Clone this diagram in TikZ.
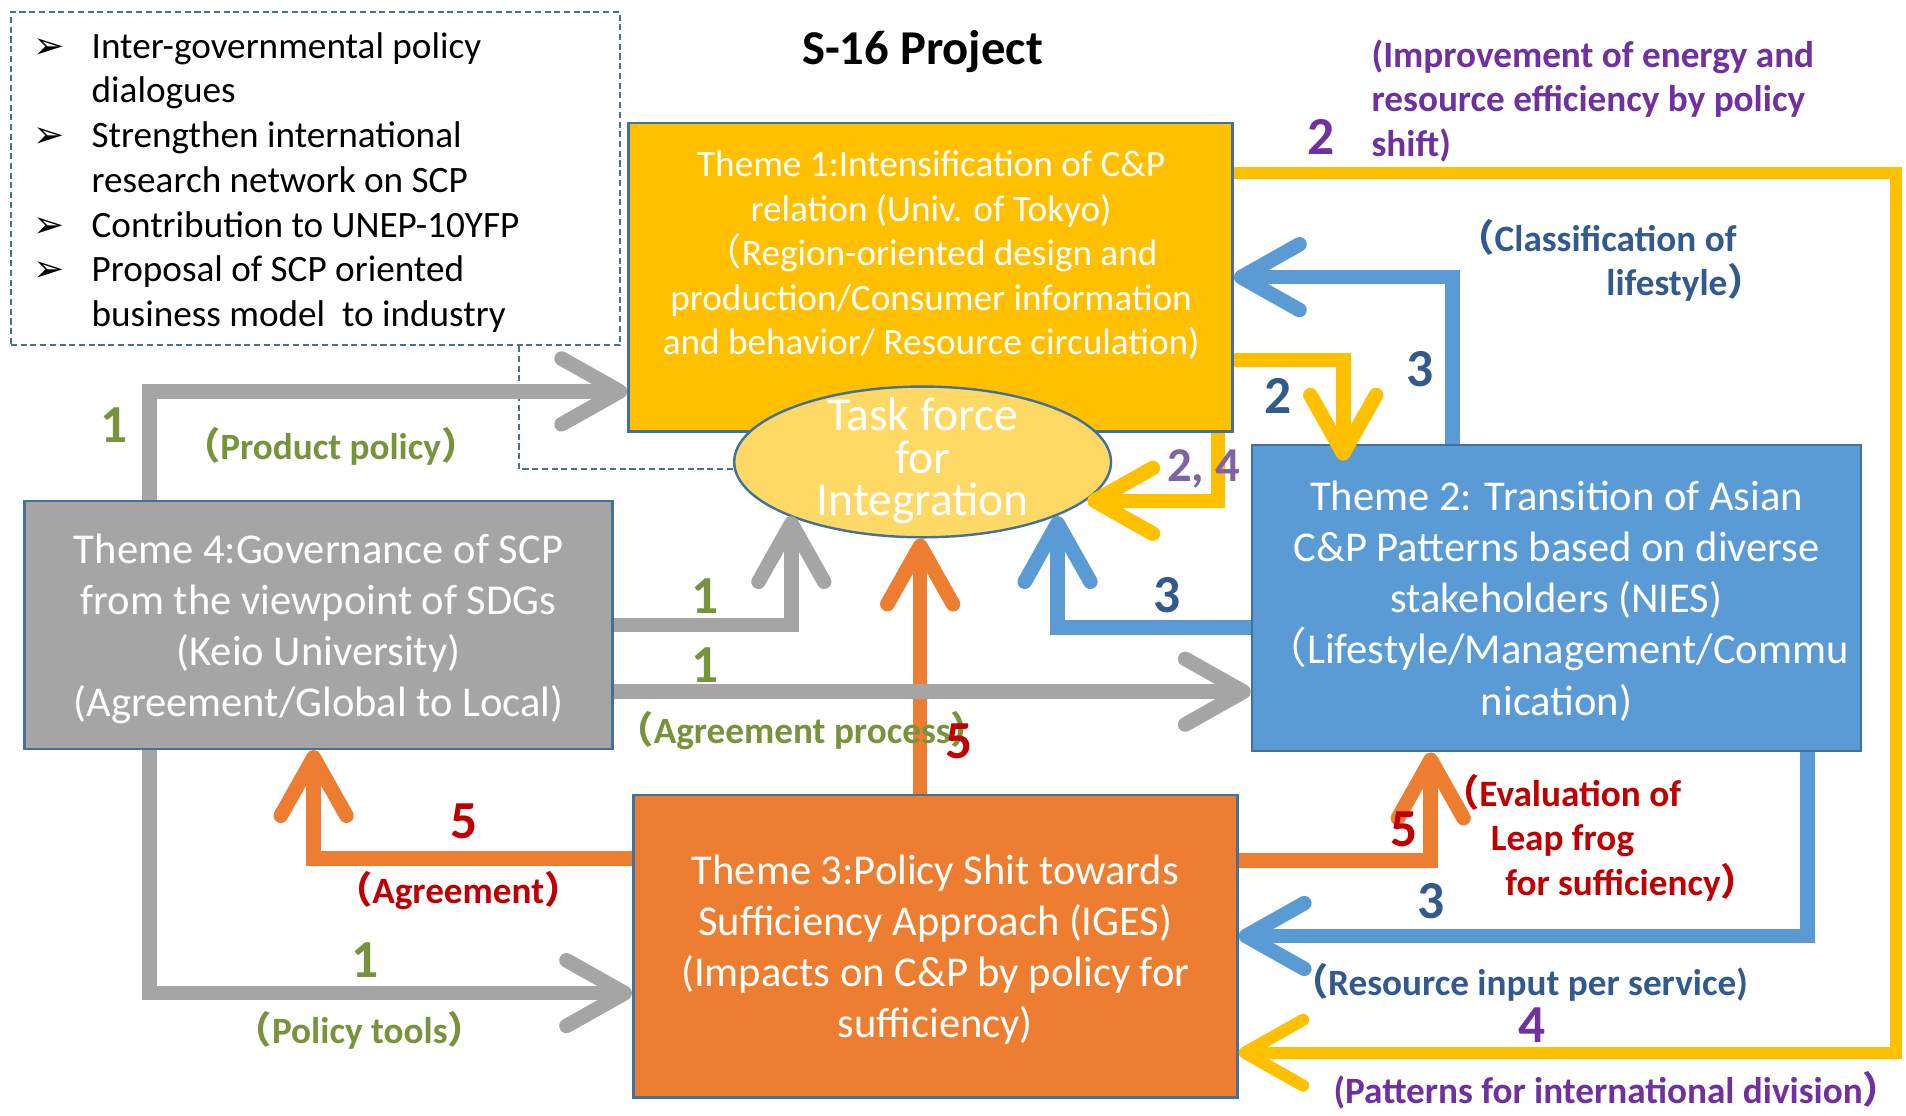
\documentclass[tikz,border=0pt]{standalone}
\usepackage{fontspec}
\setmainfont{Carlito}
\newfontfamily\cjk{Noto Sans CJK SC}
\newfontfamily\dejavu{DejaVu Sans}
\usetikzlibrary{arrows.meta,shapes.geometric}
\definecolor{cgold}{HTML}{FFC000}
\definecolor{cblue}{HTML}{5B9BD5}
\definecolor{corange}{HTML}{ED7D31}
\definecolor{cgray}{HTML}{A5A5A5}
\definecolor{cell}{HTML}{FFD966}
\definecolor{cborder}{HTML}{41719C}
\definecolor{cgreen}{HTML}{77933C}
\definecolor{cpurple}{HTML}{7030A0}
\definecolor{cpurpletwo}{HTML}{8064A2}
\definecolor{cdblue}{HTML}{325A8E}
\definecolor{cred}{HTML}{C00000}
\newcommand\lp{{\cjk （}}
\newcommand\rp{{\cjk ）}}
\newcommand\bul{{\dejavu ➢}}
\tikzset{
  themebox/.style={draw=cborder, line width=1pt, inner sep=0pt},
  themetext/.style={align=center, text=white, inner sep=0pt, font=\fontsize{17.5}{21}\selectfont},
  conn/.style={line width=6pt, line join=miter, -{Straight Barb[length=24pt,width=27pt,round]}},
  gconn/.style={conn, draw=cgray},
  oconn/.style={conn, draw=corange},
  bconn/.style={conn, draw=cblue},
  yconn/.style={conn, draw=cgold},
  lbl/.style={font=\fontsize{15.3}{18.3}\selectfont\bfseries, inner sep=0},
  num/.style={font=\fontsize{22}{22}\selectfont\bfseries, inner sep=0},
  dashline/.style={draw=cborder, line width=0.8pt, dash pattern=on 2.5pt off 1.5pt}
}
\begin{document}
\begin{tikzpicture}[x=0.5pt,y=-0.5pt]
\useasboundingbox (0,0) rectangle (1568,918);
\fill[white] (0,0) rectangle (1568,918);

% dashed box
\node[dashline, minimum width=250.5pt, minimum height=137pt, inner sep=0] (db) at (259.5,147) {};
\node[anchor=west, inner sep=0, align=left, font=\fontsize{15.3}{18.4}\selectfont] (dbt) at (27,150)
 {\makebox[24pt][l]{\bul}Inter-governmental policy\\
  \hspace*{24pt}dialogues\\
  \makebox[24pt][l]{\bul}Strengthen international\\
  \hspace*{24pt}research network on SCP\\
  \makebox[24pt][l]{\bul}Contribution to UNEP-10YFP\\
  \makebox[24pt][l]{\bul}Proposal of SCP oriented\\
  \hspace*{24pt}business model\ \ to industry};

% theme boxes
\node[themebox, fill=cgold, minimum width=248.5pt, minimum height=127pt] (t1) at (765.5,228) {};
\node[align=center, text=white, inner sep=0, font=\fontsize{15.3}{18.3}\selectfont] (t1t) at (766,210)
 {Theme 1:Intensification of C\&P\\relation (Univ. of Tokyo)\\\lp Region-oriented design and\\production/Consumer information\\and behavior/ Resource circulation)};
\node[themebox, fill=cblue, minimum width=250.5pt, minimum height=126pt] (t2) at (1280.5,492) {};
\node[themetext] (t2t) at (1280.5,494.5)
 {Theme 2: Transition of Asian\\C\&P Patterns based on diverse\\stakeholders (NIES)\\\lp Lifestyle/Management/Commu\\nication)};
\node[themebox, fill=corange, minimum width=248.5pt, minimum height=124.5pt] (t3) at (769.5,778.5) {};
\node[themetext] (t3t) at (769.5,781.5)
 {Theme 3:Policy Shit towards\\Sufficiency Approach (IGES)\\(Impacts on C\&P by policy for\\sufficiency)};
\node[themebox, fill=cgray, minimum width=242pt, minimum height=102pt] (t4) at (262,514) {};
\node[themetext] (t4t) at (262,517.5)
 {Theme 4:Governance of SCP\\from the viewpoint of SDGs\\(Keio University)\\(Agreement/Global to Local)};

% ellipse
\node[ellipse, draw=cborder, line width=1pt, fill=cell, minimum width=155pt, minimum height=62pt, inner sep=0] (tf) at (759,380) {};
\node[align=center, text=white, inner sep=0, font=\fontsize{19.5}{17.5}\selectfont] (tft) at (759,379) {Task force\\for\\Integration};

% dashed connector
\coordinate (dc) at (427,386);
\draw[dashline] (dc |- db.south) -- (dc) -- (dc -| tf.west);

% orange connectors
\coordinate (oa) at (258,706);
\draw[oconn] (t3.west |- oa) -- (oa) -- (oa |- t4.south);
\coordinate (ov) at (757,654);
\draw[oconn] (ov |- t3.north) -- (ov |- tf.south);
\coordinate (ob) at (1177,708);
\draw[oconn] (t3.east |- ob) -- (ob) -- (ob |- t2.south);

% gray connectors
\coordinate (pp) at (123,322);
\draw[gconn] (pp |- t4.north) -- (pp) -- (pp -| t1.west);
\coordinate (g2) at (651,514);
\draw[gconn] (t4.east |- g2) -- (g2) -- (g2 |- tf.202.4);
\coordinate (ap) at (700,569);
\draw[gconn] (t4.east |- ap) -- (ap -| t2.west);
\coordinate (pt) at (123,817);
\draw[gconn] (pt |- t4.south) -- (pt) -- (pt -| t3.west);

% blue connectors
\coordinate (bl) at (870,516);
\draw[bconn] (t2.west |- bl) -- (bl) -- (bl |- tf.338.7);
\coordinate (bt) at (1195,228);
\draw[bconn] (bt |- t2.north) -- (bt) -- (bt -| t1.east);
\coordinate (bb) at (1487,770);
\draw[bconn] (bb |- t2.south) -- (bb) -- (bb -| t3.east);

% gold connectors
\coordinate (ga) at (1560,142);
\coordinate (gb) at (1560,866);
\draw[yconn, line width=5pt] (t1.east |- ga) -- (ga) -- (gb) -- (gb -| t3.east);
\coordinate (gc) at (1105,296);
\draw[yconn, shorten >=-7pt] (t1.east |- gc) -- (gc) -- (gc |- t2.north);
\coordinate (gd) at (1002,412);
\draw[yconn] (gd |- t1.south) -- (gd) -- (gd -| tf.347.5);

% labels
\node[font=\fontsize{20}{20}\selectfont\bfseries, inner sep=0] (title) at (759,42) {S-16 Project};
\node[num, text=cgreen] (n1a) at (94,350) {1};
\node[lbl, text=cgreen] (lpp) at (272,367) {\lp Product policy\rp};
\node[num, text=cgreen] (n1b) at (580,490) {1};
\node[num, text=cgreen] (n1c) at (580,547) {1};
\node[lbl, text=cgreen] (lap) at (660,601) {\lp Agreement process\rp};
\node[num, text=cred] (n5a) at (789,610) {5};
\node[num, text=cred] (n5b) at (382,676) {5};
\node[lbl, text=cred] (lag) at (377,733) {\lp Agreement\rp};
\node[num, text=cgreen] (n1d) at (300,790) {1};
\node[lbl, text=cgreen] (lpt) at (296,848) {\lp Policy tools\rp};
\node[num, text=cpurple] (n2a) at (1087,113) {2};
\node[lbl, text=cpurple, align=left, anchor=west] (lie) at (1128,83) {(Improvement of energy and\\resource efficiency by policy\\shift)};
\node[lbl, text=cdblue, align=right, anchor=east] (lcl) at (1452,214) {\lp Classification of\hspace*{11.5pt}\\lifestyle\rp};
\node[num, text=cdblue] (n3a) at (1168,304) {3};
\node[num, text=cdblue] (n2b) at (1051,326) {2};
\node[inner sep=0, text=cpurpletwo, font=\fontsize{20}{20}\selectfont\bfseries] (n24) at (990,386) {2, 4};
\node[num, text=cdblue] (n3b) at (960,490) {3};
\node[num, text=cred] (n5c) at (1155,682) {5};
\node[lbl, text=cred, align=left, anchor=west] (lev) at (1186,689) {\lp Evaluation of\\\hspace*{20pt}Leap frog\\\hspace*{26pt}for sufficiency\rp};
\node[num, text=cdblue] (n3c) at (1177,741) {3};
\node[lbl, text=cdblue] (lri) at (1250,808) {\lp Resource input per service)};
\node[num, text=cpurple] (n4) at (1260,843) {4};
\node[lbl, text=cpurple] (lpd) at (1330,897) {(Patterns for international division\rp};
\end{tikzpicture}
\end{document}
